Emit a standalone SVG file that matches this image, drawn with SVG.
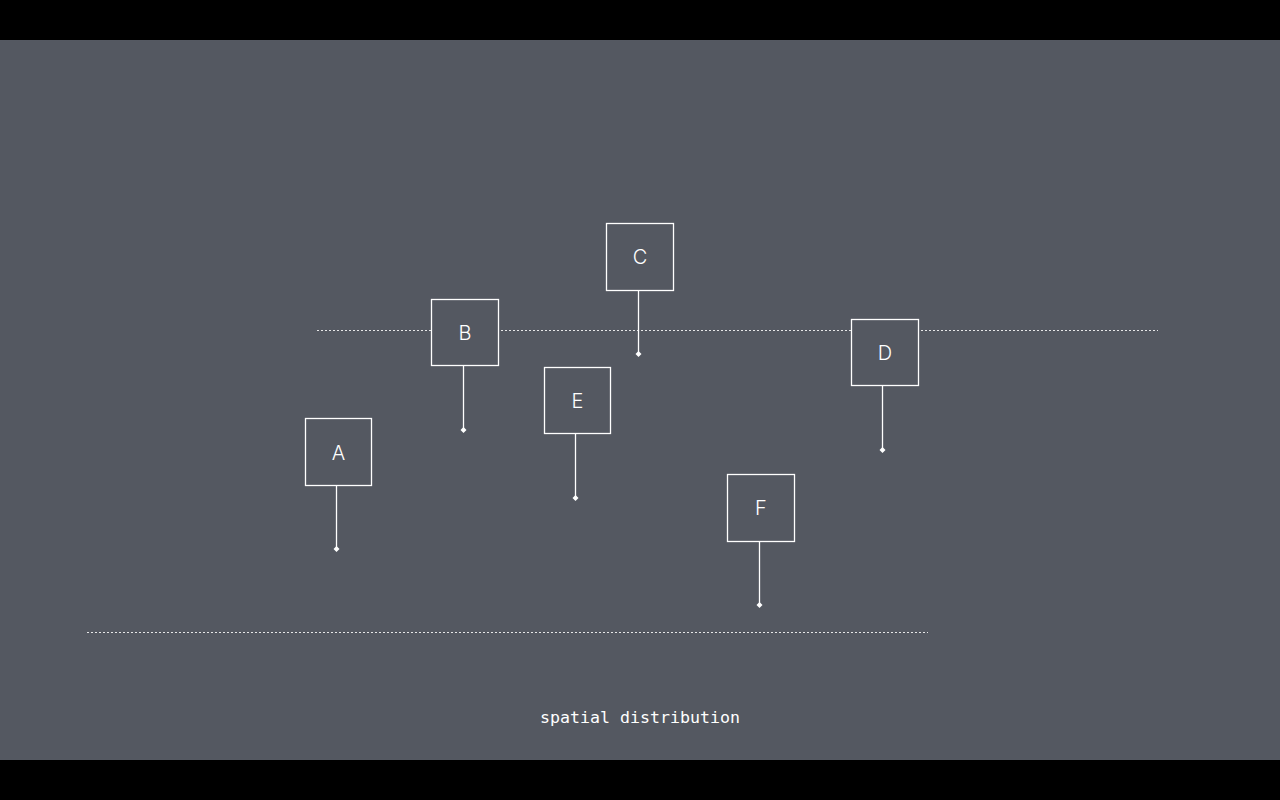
<svg xmlns="http://www.w3.org/2000/svg" width="1280" height="800" viewBox="0 0 1280 800">
<style>
.box{fill:#545861;stroke:#ffffff;stroke-width:1.3}
.lbl{fill:#ffffff;font-family:Inter,"Liberation Sans",sans-serif;font-weight:300;font-size:20px;text-anchor:middle}
.stem{stroke:#ffffff;stroke-width:1.3;fill:none}
.dot{fill:#ffffff}
.guide{stroke:#ffffff;stroke-width:1;stroke-dasharray:2 2;opacity:0.85}
</style>
<defs>
<path id="dm" d="M0,-3 L3,0 L0,3 L-3,0 Z"/>
</defs>
<rect x="0" y="0" width="1280" height="800" fill="#000000"/>
<rect x="0" y="40" width="1280" height="720" fill="#545861"/>
<g id="guides">
<line class="guide" x1="317" y1="330.5" x2="1158" y2="330.5"/>
<line class="guide" x1="87" y1="632.5" x2="928" y2="632.5"/>
</g>
<g id="connectors">
<line class="stem" x1="336.5" y1="485" x2="336.5" y2="549"/>
<use href="#dm" class="dot" x="336.5" y="549"/>
<line class="stem" x1="463.5" y1="365" x2="463.5" y2="430"/>
<use href="#dm" class="dot" x="463.5" y="430"/>
<line class="stem" x1="638.5" y1="290" x2="638.5" y2="354"/>
<use href="#dm" class="dot" x="638.5" y="354"/>
<line class="stem" x1="882.5" y1="385" x2="882.5" y2="450"/>
<use href="#dm" class="dot" x="882.5" y="450"/>
<line class="stem" x1="575.5" y1="433" x2="575.5" y2="498"/>
<use href="#dm" class="dot" x="575.5" y="498"/>
<line class="stem" x1="759.5" y1="541" x2="759.5" y2="605"/>
<use href="#dm" class="dot" x="759.5" y="605"/>
</g>
<g id="A"><rect class="box" x="305.5" y="418.5" width="66" height="67"/><text class="lbl" x="338.5" y="460">A</text></g>
<g id="B"><rect class="box" x="431.5" y="299.5" width="67" height="66"/><text class="lbl" x="465" y="340">B</text></g>
<g id="C"><rect class="box" x="606.5" y="223.5" width="67" height="67"/><text class="lbl" x="640" y="264">C</text></g>
<g id="D"><rect class="box" x="851.5" y="319.5" width="67" height="66"/><text class="lbl" x="885" y="360">D</text></g>
<g id="E"><rect class="box" x="544.5" y="367.5" width="66" height="66"/><text class="lbl" x="577.5" y="408">E</text></g>
<g id="F"><rect class="box" x="727.5" y="474.5" width="67" height="67"/><text class="lbl" x="761" y="515">F</text></g>
<text x="640" y="723" fill="#ffffff" font-family="'DejaVu Sans Mono',monospace" font-size="16.6" text-anchor="middle">spatial distribution</text>
</svg>
